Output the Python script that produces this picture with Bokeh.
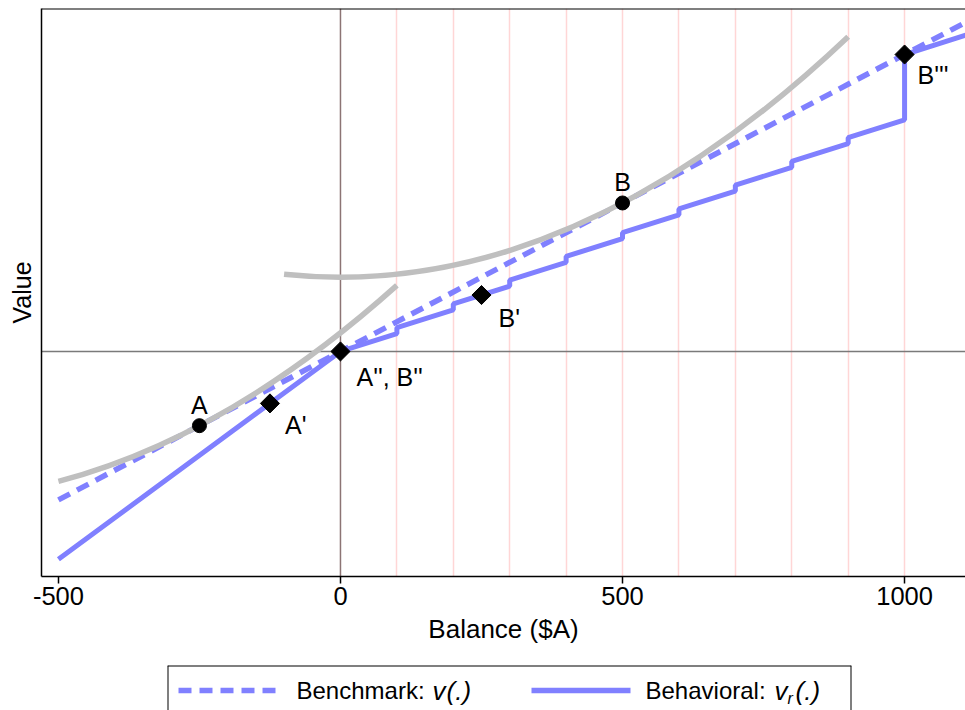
import math
from bokeh.plotting import figure
from bokeh.models import Range1d, FixedTicker, Span, Grid, ColumnDataSource
from bokeh.layouts import column
from bokeh.core.properties import value
from bokeh.embed import file_html
from bokeh.resources import INLINE

FONT = "Liberation Sans"
BLUE = "#8080ff"
GRAY = "#bfbfbf"

# ---------------- data ----------------
bench_x = [-500, 1120]
bench_y = [-500, 1120]

behav_x = [-500, 0, 100, 100, 200, 200, 300, 300, 400, 400, 500, 500,
           600, 600, 700, 700, 800, 800, 900, 900, 1000, 1000, 1120]
behav_y = [-700, 0, 60, 80, 140, 160, 220, 240, 300, 320, 380, 400,
           460, 480, 540, 560, 620, 640, 700, 720, 780, 1000, 1072]

# gray curves (quadratic Bezier: start, control, end)
curve_x0 = [-500, -100]
curve_y0 = [-437.5, 260]
curve_cx = [-200, 400]
curve_cy = [-287.5, 160]
curve_x1 = [100, 900]
curve_y1 = [222.5, 1060]

circle_x = [-250, 500]
circle_y = [-250, 500]
circle_lab = ["A", "B"]

diamond_x = [-125, 0, 250, 1000]
diamond_y = [-175, 0, 190, 1000]
diamond_lab = ["A'", "A'', B''", "B'", "B'''"]

x_ticks = [-500, 0, 500, 1000]
x_tick_labels = ["-500", "0", "500", "1000"]
grid_x = [100, 200, 300, 400, 500, 600, 700, 800, 900, 1000]

X_START, X_END = -530, 1108
Y_START, Y_END = -758, 1155

# ---------------- main figure ----------------
p = figure(width=965, height=660, output_backend="svg", toolbar_location=None,
           x_range=Range1d(X_START, X_END), y_range=Range1d(Y_START, Y_END),
           min_border_left=41, min_border_right=0, min_border_top=8,
           min_border_bottom=84)
p.frame_align = False
p.outline_line_color = None
p.background_fill_color = "white"
p.border_fill_color = "white"
p.xgrid.grid_line_color = None
p.ygrid.grid_line_color = None

pink_grid = Grid(dimension=0, ticker=FixedTicker(ticks=grid_x),
                 grid_line_color="#ffd6d6", grid_line_width=1.5, level="underlay")
p.add_layout(pink_grid)

p.add_layout(Span(location=0, dimension="height", line_color="#8c7474",
                  line_width=1.5, level="underlay"))
p.add_layout(Span(location=0, dimension="width", line_color="#7a7a7a",
                  line_width=1.5, level="underlay"))
p.add_layout(Span(location=Y_END, dimension="width", line_color="black",
                  line_width=2))

# axes
xa = p.xaxis[0]
xa.ticker = FixedTicker(ticks=x_ticks)
xa.major_label_overrides = {t: s for t, s in zip(x_ticks, x_tick_labels)}
xa.axis_label = "Balance ($A)"
xa.axis_line_color = "black"
xa.axis_line_width = 1.5
xa.major_tick_out = 7
xa.major_tick_in = 0
xa.major_tick_line_color = "black"
xa.major_tick_line_width = 1.5
xa.minor_tick_line_color = None
xa.major_label_text_font = FONT
xa.major_label_text_font_size = "25.5px"
xa.major_label_text_color = "black"
xa.major_label_standoff = 3
xa.axis_label_text_font = FONT
xa.axis_label_text_font_size = "26px"
xa.axis_label_text_font_style = "normal"
xa.axis_label_text_color = "black"
xa.axis_label_standoff = 6

ya = p.yaxis[0]
ya.ticker = FixedTicker(ticks=[])
ya.axis_label = "Value"
ya.axis_line_color = "black"
ya.axis_line_width = 1.5
ya.major_tick_line_color = None
ya.minor_tick_line_color = None
ya.major_label_text_color = None
ya.axis_label_text_font = FONT
ya.axis_label_text_font_size = "25px"
ya.axis_label_text_font_style = "normal"
ya.axis_label_text_color = "black"
ya.axis_label_standoff = 6

# lines
p.line(bench_x, bench_y, line_color=BLUE, line_width=5.5, line_dash="13 8")
p.line(behav_x, behav_y, line_color=BLUE, line_width=5)
p.quadratic(x0=curve_x0, y0=curve_y0, x1=curve_x1, y1=curve_y1,
            cx=curve_cx, cy=curve_cy, line_color=GRAY, line_width=5.5)

# markers
p.scatter(circle_x, circle_y, marker="circle", size=14, fill_color="black",
          line_color="black")
p.scatter(diamond_x, diamond_y, marker="square", size=13.5, angle=math.pi / 4,
          fill_color="black", line_color="black")

# point labels
circ_src = ColumnDataSource(dict(x=circle_x, y=circle_y, t=circle_lab))
p.text(x="x", y="y", text="t", source=circ_src, text_align="center",
       text_baseline="middle", y_offset=-21, text_font=value(FONT),
       text_font_size="25px", text_color="black")

dia_src = ColumnDataSource(dict(x=diamond_x, y=diamond_y, t=diamond_lab,
                                dx=[15, 16, 17, 13], dy=[22, 26, 23, 20]))
p.text(x="x", y="y", text="t", source=dia_src, text_align="left",
       text_baseline="middle", x_offset="dx", y_offset="dy",
       text_font=value(FONT), text_font_size="25px", text_color="black")

# ---------------- legend figure ----------------
LW, LH = 684, 45
p2 = figure(width=965, height=50, output_backend="svg", toolbar_location=None,
            x_range=Range1d(0, LW), y_range=Range1d(0, LH),
            min_border_left=167, min_border_right=114, min_border_top=5,
            min_border_bottom=0)
p2.frame_align = False
p2.axis.visible = False
p2.grid.visible = False
p2.outline_line_color = None
for loc, dim in [(0, "height"), (LW, "height")]:
    p2.add_layout(Span(location=loc, dimension=dim, line_color="black", line_width=2))
p2.add_layout(Span(location=LH, dimension="width", line_color="black", line_width=2))

yc = 20
p2.line([11, 113], [yc, yc], line_color=BLUE, line_width=5.5, line_dash="13 8")
p2.line([364, 463], [yc, yc], line_color=BLUE, line_width=5.5)

def t(x, s, style="normal", size="24px", dy=0):
    p2.text(x=[x], y=[yc], text=[s], text_align="left", text_baseline="middle",
            y_offset=dy, text_font=value(FONT), text_font_size=size,
            text_font_style=style, text_color="black")

t(129, "Benchmark:")
t(265, "v", "italic", "26px")
t(279, "(.)", "italic", "26px")
t(478, "Behavioral:")
t(607, "v", "italic", "26px")
t(620, "r", "italic", "16px", 8)
t(628, "(.)", "italic", "26px")

layout = column(p, p2, spacing=0)
open("out.html", "w").write(file_html(layout, INLINE))
